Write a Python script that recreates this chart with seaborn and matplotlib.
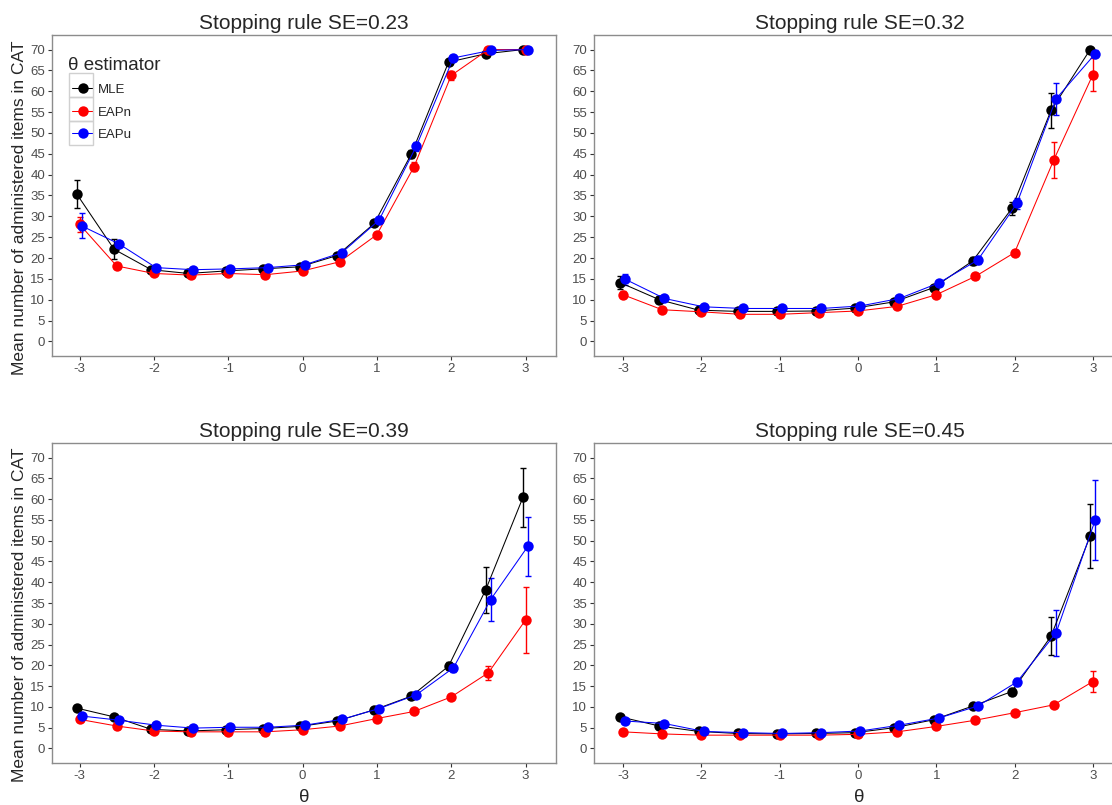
import numpy as np
import pandas as pd
import matplotlib
matplotlib.use("Agg")
import matplotlib.pyplot as plt
from matplotlib.patches import Rectangle
from matplotlib.lines import Line2D
from matplotlib.legend_handler import HandlerLine2D
import seaborn as sns

theta = [-3, -2.5, -2, -1.5, -1, -0.5, 0, 0.5, 1, 1.5, 2, 2.5, 3]
estimators = ["MLE", "EAPn", "EAPu"]
panel_titles = ["Stopping rule SE=0.23", "Stopping rule SE=0.32",
                "Stopping rule SE=0.39", "Stopping rule SE=0.45"]

# SE = 0.23
mle_023 = [35.3, 22.1, 17.2, 16.3, 16.9, 17.4, 17.9, 20.6, 28.3, 45.0, 67.0, 69.0, 70.0]
eapn_023 = [28.1, 18.1, 16.3, 15.9, 16.3, 16.0, 16.9, 19.1, 25.6, 41.9, 63.8, 70.0, 70.0]
eapu_023 = [27.7, 23.4, 17.7, 17.2, 17.4, 17.7, 18.4, 21.3, 29.1, 46.8, 68.0, 69.8, 70.0]
mle_023_err = [3.4, 2.4, 0.5, 0.4, 0.4, 0.4, 0.4, 0.5, 0.7, 1.0, 0.6, 0.3, 0.0]
eapn_023_err = [1.8, 0.6, 0.4, 0.3, 0.3, 0.3, 0.4, 0.5, 0.7, 1.1, 1.1, 0.2, 0.0]
eapu_023_err = [3.0, 0.8, 0.4, 0.4, 0.4, 0.4, 0.4, 0.5, 0.7, 1.1, 0.6, 0.3, 0.0]

# SE = 0.32
mle_032 = [14.1, 10.0, 7.5, 7.2, 7.2, 7.3, 8.0, 9.5, 12.9, 19.3, 31.9, 55.4, 70.0]
eapn_032 = [11.2, 7.6, 7.1, 6.5, 6.5, 6.9, 7.3, 8.4, 11.2, 15.6, 21.3, 43.5, 64.0]
eapu_032 = [14.9, 10.3, 8.3, 7.9, 7.9, 7.9, 8.5, 10.3, 14.0, 19.5, 33.1, 58.2, 69.0]
mle_032_err = [1.5, 0.8, 0.3, 0.3, 0.3, 0.3, 0.3, 0.4, 0.6, 0.9, 1.6, 4.2, 0.2]
eapn_032_err = [0.9, 0.3, 0.2, 0.2, 0.2, 0.2, 0.2, 0.3, 0.4, 0.6, 0.7, 4.3, 4.0]
eapu_032_err = [1.3, 0.6, 0.3, 0.3, 0.3, 0.3, 0.3, 0.4, 0.6, 0.9, 1.3, 3.8, 0.8]

# SE = 0.39
mle_039 = [9.7, 7.6, 4.6, 4.2, 4.5, 4.8, 5.3, 6.6, 9.3, 12.6, 19.8, 38.2, 60.4]
eapn_039 = [7.0, 5.4, 4.2, 4.0, 4.0, 4.0, 4.5, 5.4, 7.2, 8.9, 12.4, 18.2, 30.9]
eapu_039 = [7.8, 6.8, 5.6, 4.9, 5.1, 5.1, 5.6, 7.0, 9.6, 12.9, 19.4, 35.8, 48.6]
mle_039_err = [0.5, 0.4, 0.2, 0.2, 0.2, 0.2, 0.2, 0.3, 0.4, 0.6, 0.9, 5.5, 7.2]
eapn_039_err = [0.3, 0.2, 0.2, 0.2, 0.2, 0.2, 0.2, 0.2, 0.3, 0.4, 0.6, 1.7, 8.0]
eapu_039_err = [0.4, 0.3, 0.2, 0.2, 0.2, 0.2, 0.2, 0.3, 0.4, 0.6, 0.9, 5.2, 7.1]

# SE = 0.45
mle_045 = [7.6, 5.4, 4.1, 3.6, 3.5, 3.6, 3.8, 5.0, 6.9, 10.2, 13.7, 27.0, 51.1]
eapn_045 = [4.0, 3.5, 3.2, 3.2, 3.2, 3.2, 3.4, 4.0, 5.3, 6.8, 8.6, 10.5, 16.1]
eapu_045 = [6.6, 6.0, 4.1, 3.8, 3.6, 3.8, 4.2, 5.6, 7.3, 10.2, 16.0, 27.8, 55.0]
mle_045_err = [0.4, 0.3, 0.2, 0.2, 0.2, 0.2, 0.2, 0.3, 0.4, 0.5, 0.8, 4.6, 7.7]
eapn_045_err = [0.2, 0.2, 0.1, 0.1, 0.1, 0.1, 0.1, 0.2, 0.2, 0.3, 0.4, 0.5, 2.6]
eapu_045_err = [0.4, 0.3, 0.2, 0.2, 0.2, 0.2, 0.2, 0.3, 0.4, 0.5, 0.9, 5.5, 9.6]

panels = [
    (mle_023, eapn_023, eapu_023, mle_023_err, eapn_023_err, eapu_023_err),
    (mle_032, eapn_032, eapu_032, mle_032_err, eapn_032_err, eapu_032_err),
    (mle_039, eapn_039, eapu_039, mle_039_err, eapn_039_err, eapu_039_err),
    (mle_045, eapn_045, eapu_045, mle_045_err, eapn_045_err, eapu_045_err),
]

palette = {"MLE": "#000000", "EAPn": "#FF0000", "EAPu": "#0000FF"}
dodge = {"MLE": -0.035, "EAPn": 0.0, "EAPu": 0.03}

sns.set_style("white")
plt.rcParams["font.family"] = ["Liberation Sans", "DejaVu Sans"]
plt.rcParams["axes.unicode_minus"] = False

fig = plt.figure(figsize=(11.12, 8.05), dpi=100)
W, H = 1112, 805
# axes rectangles in pixels: (left, top, right, bottom)
rects = [(52, 35, 556, 356), (594, 35, 1125, 356),
         (52, 443, 556, 763), (594, 443, 1125, 763)]

frame_col = "#8c8c8c"
tick_col = "#4d4d4d"

for i, (rect, vals) in enumerate(zip(rects, panels)):
    l, t, r, b = rect
    ax = fig.add_axes([l / W, (H - b) / H, (r - l) / W, (b - t) / H])
    rows = []
    for est, y, e in zip(estimators, vals[:3], vals[3:]):
        for th, yy, ee in zip(theta, y, e):
            rows.append({"x": th + dodge[est], "theta": th, "mean": yy, "err": ee,
                         "estimator": est})
    df = pd.DataFrame(rows)
    for est in estimators:
        sub = df[df.estimator == est]
        ax.errorbar(sub["x"], sub["mean"], yerr=sub["err"], fmt="none",
                    ecolor=palette[est], elinewidth=1.0, capsize=2.2,
                    capthick=1.0, zorder=2)
    sns.lineplot(data=df, x="x", y="mean", hue="estimator",
                 hue_order=estimators, palette=palette, marker="o",
                 markersize=7.5, markeredgewidth=0, linewidth=0.75,
                 sort=True, errorbar=None, ax=ax, zorder=3)
    ax.set_xlim(-3.37, 3.41)
    ax.set_ylim(-3.5, 73.5)
    ax.set_xticks([-3, -2, -1, 0, 1, 2, 3])
    ax.set_yticks(range(0, 71, 5))
    ax.set_title(panel_titles[i], fontsize=15, pad=4)
    for sp in ax.spines.values():
        sp.set_color(frame_col)
        sp.set_linewidth(1.0)
    ax.tick_params(axis="both", which="both", direction="out", length=3,
                   width=0.8, color="#333333", labelsize=9.5,
                   labelcolor=tick_col, pad=2, left=True, bottom=True)
    if i % 2 == 0:
        ax.set_ylabel("Mean number of administered items in CAT", fontsize=12.5)
        ax.yaxis.set_label_coords((27 - l) / (r - l), 0.463)
    else:
        ax.set_ylabel("")
    if i >= 2:
        ax.set_xlabel("θ", fontsize=13.5, labelpad=5)
    else:
        ax.set_xlabel("")
    if i == 0:
        handles, labels = ax.get_legend_handles_labels()
        leg = ax.legend(handles, labels, title="θ estimator", loc="upper left",
                        bbox_to_anchor=(4 / (r - l), 0.97), fontsize=9.5,
                        title_fontsize=13.5, frameon=False, handlelength=1.9,
                        handletextpad=0.4, labelspacing=0.78,
                        borderaxespad=0.5,
                        handler_map={Line2D: HandlerLine2D(xpad=0.35)})
        leg._legend_box.align = "left"
        # legend key boxes
        for k in range(3):
            y_top = 73 + 24 * k
            fig.add_artist(Rectangle((69 / W, (H - y_top - 24) / H), 24 / W, 24 / H,
                                     transform=fig.transFigure, fill=False,
                                     edgecolor="#d0d0d0", linewidth=1.0,
                                     zorder=10))
    else:
        leg = ax.get_legend()
        if leg is not None:
            leg.remove()

fig.savefig("out.png", dpi=100)
